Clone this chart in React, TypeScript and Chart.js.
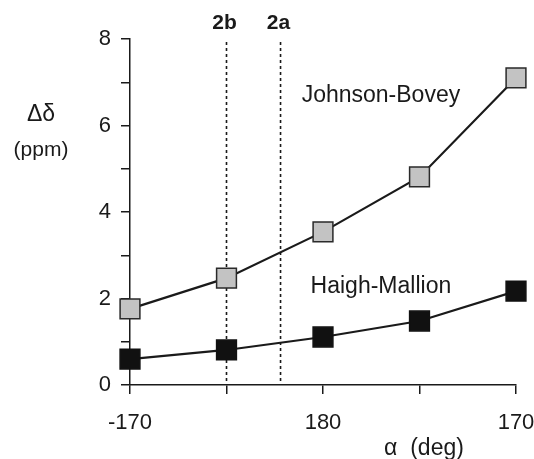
import React, { useEffect, useRef } from "react";
import { Chart, registerables } from "chart.js";

Chart.register(...registerables);

// Torsion angle alpha (deg), in plotted order (wrapping through 180)
const alphaDeg = [-170, -175, 180, 175, 170];
// Δδ (ppm)
const johnsonBovey = [1.76, 2.47, 3.54, 4.81, 7.1];
const haighMallion = [0.6, 0.81, 1.11, 1.48, 2.17];
// x tick labels shown
const xTickLabels = ["-170", "180", "170"];
// vertical reference lines
const refLabels = ["2b", "2a"];
const refAlpha = [-175, -177.8];
// y axis
const yMin = 0;
const yMax = 8;

const FONT = "'Liberation Sans', Arial, Helvetica, sans-serif";
const INK = "#1a1a1a";

const unwrap = (a: number) => (a > 0 ? a - 360 : a);
const wrapLabel = (v: number) => {
  let d = v < -180 ? v + 360 : v;
  if (Math.abs(v + 180) < 1e-9) d = 180;
  return String(Math.round(d));
};

export default function App() {
  const ref = useRef<HTMLCanvasElement | null>(null);

  useEffect(() => {
    if (!ref.current) return;

    const overlay = {
      id: "overlay",
      beforeDatasetsDraw(chart: any) {
        const { ctx, chartArea, scales } = chart;
        ctx.save();
        ctx.strokeStyle = INK;
        ctx.lineWidth = 1.6;
        ctx.setLineDash([3, 3]);
        refAlpha.forEach((a) => {
          const x = scales.x.getPixelForValue(unwrap(a));
          ctx.beginPath();
          ctx.moveTo(x, chartArea.top + 3);
          ctx.lineTo(x, chartArea.bottom);
          ctx.stroke();
        });
        ctx.setLineDash([]);
        ctx.fillStyle = INK;
        ctx.font = `bold 21px ${FONT}`;
        ctx.textAlign = "center";
        ctx.textBaseline = "middle";
        refAlpha.forEach((a, i) => {
          const x = scales.x.getPixelForValue(unwrap(a));
          ctx.fillText(refLabels[i], x - 2, 23);
        });
        ctx.restore();
      },
      afterDraw(chart: any) {
        const { ctx, scales } = chart;
        ctx.save();
        ctx.fillStyle = INK;
        ctx.textAlign = "center";
        ctx.textBaseline = "middle";
        ctx.font = `23px ${FONT}`;
        // series labels
        ctx.fillText("Johnson-Bovey", scales.x.getPixelForValue(unwrap(177)), scales.y.getPixelForValue(6.68));
        ctx.fillText("Haigh-Mallion", scales.x.getPixelForValue(unwrap(177)), scales.y.getPixelForValue(2.27));
        // axis titles
        ctx.font = `23px ${FONT}`;
        ctx.fillText("Δδ", 41, 115);
        ctx.font = `21px ${FONT}`;
        ctx.fillText("(ppm)", 41, 150);
        ctx.font = `23px ${FONT}`;
        ctx.fillText("α  (deg)", 424, 449);
        ctx.restore();
      },
    };

    const chart = new Chart(ref.current, {
      type: "line",
      data: {
        datasets: [
          {
            label: "Johnson-Bovey",
            data: alphaDeg.map((a, i) => ({ x: unwrap(a), y: johnsonBovey[i] })),
            borderColor: INK,
            borderWidth: 2.2,
            pointStyle: "rect",
            pointRadius: 14,
            pointBackgroundColor: "#c3c3c3",
            pointBorderColor: "#2a2a2a",
            pointBorderWidth: 1.5,
            tension: 0,
            clip: false,
          },
          {
            label: "Haigh-Mallion",
            data: alphaDeg.map((a, i) => ({ x: unwrap(a), y: haighMallion[i] })),
            borderColor: INK,
            borderWidth: 2.2,
            pointStyle: "rect",
            pointRadius: 14,
            pointBackgroundColor: "#111111",
            pointBorderColor: "#111111",
            pointBorderWidth: 1.5,
            tension: 0,
            clip: false,
          },
        ],
      },
      options: {
        animation: false,
        responsive: false,
        layout: { padding: { top: 39, right: 18, left: 0, bottom: 0 } },
        plugins: { legend: { display: false }, tooltip: { enabled: false } },
        scales: {
          x: {
            type: "linear",
            min: -190,
            max: -170,
            reverse: true,
            afterFit(scale: any) {
              scale.height = 459 - 385;
              scale.paddingLeft = 0;
              scale.paddingRight = 0;
            },
            ticks: {
              stepSize: 5,
              autoSkip: false,
              maxRotation: 0,
              padding: 16,
              color: INK,
              font: { family: FONT, size: 22 },
              callback: (v: any) => {
                const l = wrapLabel(Number(v));
                return xTickLabels.includes(l) && Number(v) % 10 === 0 ? l : "";
              },
            },
            grid: { drawOnChartArea: false, drawTicks: true, tickLength: 9, color: INK, lineWidth: 1.5 },
            border: { display: true, color: INK, width: 1.5 },
          },
          y: {
            type: "linear",
            min: yMin,
            max: yMax,
            afterFit(scale: any) {
              scale.width = 130;
              scale.paddingTop = 0;
              scale.paddingBottom = 0;
            },
            ticks: {
              stepSize: 1,
              padding: 10,
              color: INK,
              font: { family: FONT, size: 22 },
              callback: (v: any) => (Number(v) % 2 === 0 ? String(v) : ""),
            },
            grid: { drawOnChartArea: false, drawTicks: true, tickLength: 9, color: INK, lineWidth: 1.5 },
            border: { display: true, color: INK, width: 1.5 },
          },
        },
      },
      plugins: [overlay],
    });
    return () => chart.destroy();
  }, []);

  return (
    <div style={{ position: "fixed", left: 0, top: 0, width: 534, height: 459, background: "#fff" }}>
      <canvas ref={ref} width={534} height={459} style={{ width: 534, height: 459, display: "block" }} />
    </div>
  );
}
